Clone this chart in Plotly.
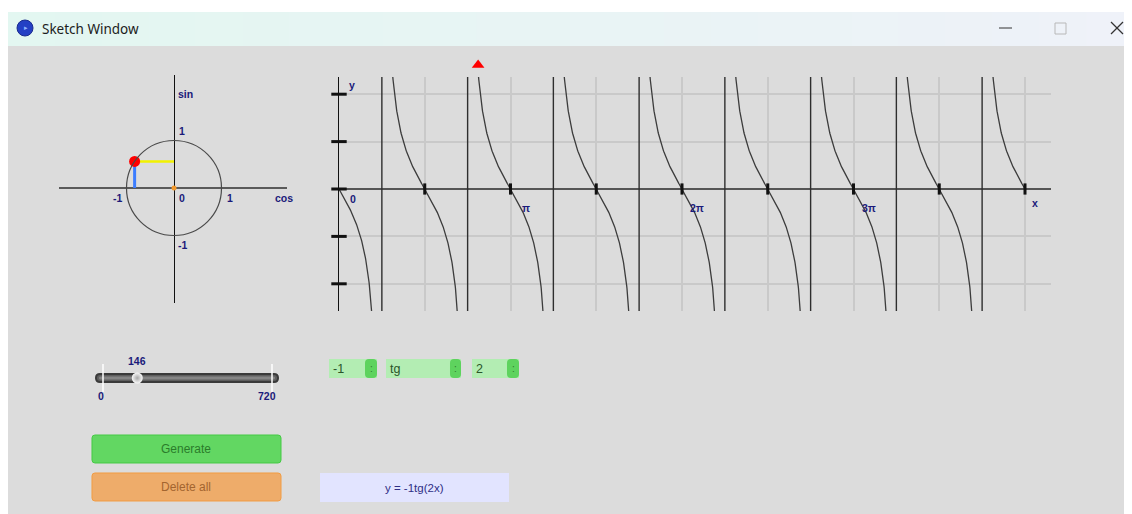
import numpy as np
import plotly.graph_objects as go

W, H = 1132, 514
OFF = 8                      # default page body margin
WF, HF = W - OFF, H - OFF    # figure size so the figure fills the window

# ---------------- data ----------------
coefficient = [-1]                 # a in y = a*tg(b*x)
function_name = ["tg"]
frequency = [2]                    # b
x_domain_deg = [0, 720]            # plotted interval (0 .. 4π)
angle_deg = [146]                  # slider value / current angle
slider_range = [0, 720]
y_tick_values = [-2, -1, 0, 1, 2]
y_grid_values = [-2, -1, 1, 2]
x_grid_deg = [90, 180, 270, 360, 450, 540, 630, 720]
pi_label_deg = [180, 360, 540]
pi_label_text = ["π", "2π", "3π"]
circle_label_text = ["sin", "1", "-1", "0", "1", "cos", "-1"]
circle_label_x = [0.25, 0.17, -1.18, 0.17, 1.18, 2.32, 0.17]
circle_label_y = [1.98, 1.20, -0.21, -0.21, -0.21, -0.21, -1.20]
dropdown_values = [str(coefficient[0]), function_name[0], str(frequency[0])]

# ---------------- helpers (window pixel -> paper) ----------------
def fx(px):
    return (px - OFF) / WF


def fy(py):
    return 1 - (py - OFF) / HF


def rr(x0, y0, x1, y1, r):
    """rounded rectangle path in paper coords from pixel box"""
    pts = [
        ("M", x0 + r, y0), ("L", x1 - r, y0), ("Q", x1, y0, x1, y0 + r),
        ("L", x1, y1 - r), ("Q", x1, y1, x1 - r, y1), ("L", x0 + r, y1),
        ("Q", x0, y1, x0, y1 - r), ("L", x0, y0 + r), ("Q", x0, y0, x0 + r, y0),
    ]
    s = ""
    for p in pts:
        if p[0] == "Q":
            s += f"Q{fx(p[1]):.6f},{fy(p[2]):.6f} {fx(p[3]):.6f},{fy(p[4]):.6f} "
        else:
            s += f"{p[0]}{fx(p[1]):.6f},{fy(p[2]):.6f} "
    return s + "Z"


def rect(x0, y0, x1, y1, fill, line=None, lw=0, layer="below"):
    return dict(type="rect", xref="paper", yref="paper", x0=fx(x0), x1=fx(x1),
                y0=fy(y1), y1=fy(y0), fillcolor=fill,
                line=dict(color=line or fill, width=lw), layer=layer)


def path(p, fill, line=None, lw=0, layer="below"):
    return dict(type="path", xref="paper", yref="paper", path=p, fillcolor=fill,
                line=dict(color=line or fill, width=lw), layer=layer)


def seg(x0, y0, x1, y1, color, lw):
    return dict(type="line", xref="paper", yref="paper", x0=fx(x0), x1=fx(x1),
                y0=fy(y0), y1=fy(y1), line=dict(color=color, width=lw), layer="above")


def ptext(x, y, text, font, xanchor="center"):
    return dict(xref="paper", yref="paper", x=fx(x), y=fy(y), text=text,
                showarrow=False, xanchor=xanchor, yanchor="middle", font=font)


LBL = dict(family="Liberation Sans, Arial, sans-serif", size=10.5, color="#1a1a7a")
UI = "Liberation Sans, Arial, sans-serif"

fig = go.Figure()
shapes = []
annotations = []

# ---------------- window chrome ----------------
shapes.append(rect(8, 46, 1133, 515, "#DCDCDC"))
c0 = np.array([0xE3, 0xF7, 0xF1])
c1 = np.array([0xEF, 0xF2, 0xF9])
n = 24
for i in range(n):
    c = (c0 + (c1 - c0) * i / (n - 1)).astype(int)
    xa = 8 + (1133 - 8) * i / n
    xb = 8 + (1133 - 8) * (i + 1) / n + 1
    shapes.append(rect(xa, 12, xb, 46, f"rgb({c[0]},{c[1]},{c[2]})"))
shapes.append(dict(type="circle", xref="paper", yref="paper", x0=fx(17), x1=fx(33),
                   y0=fy(36), y1=fy(20), fillcolor="#2440C4",
                   line=dict(color="#1a2b8e", width=1), layer="above"))
annotations.append(ptext(26, 28, "▸", dict(size=7, color="#8fb4ff")))
annotations.append(ptext(40, 29, "Sketch Window",
                         dict(family="Noto Sans, Open Sans, sans-serif", size=13.5,
                              color="#1c1c1c"), xanchor="left"))
shapes.append(seg(999, 28, 1012, 28, "#333333", 1))
shapes.append(dict(type="rect", xref="paper", yref="paper", x0=fx(1055), x1=fx(1066),
                   y0=fy(34), y1=fy(23), line=dict(color="#b8b8b8", width=1),
                   fillcolor="rgba(0,0,0,0)", layer="above"))
shapes.append(seg(1111, 22, 1123, 34, "#333333", 1.3))
shapes.append(seg(1111, 34, 1123, 22, "#333333", 1.3))

# ---------------- tangent graph (axis x in degrees) ----------------
a, b = coefficient[0], frequency[0]
kx = 686 / 720.0       # px per degree
ky = 47.4              # px per unit
x_rng = [0, (1051 - 339) / kx]
y_rng = [(189 - 311) / ky, (189 - 77) / ky]

xs = np.arange(x_domain_deg[0], x_domain_deg[1] + 0.001, 0.25)
with np.errstate(over="ignore", invalid="ignore"):
    ys = a * np.tan(np.radians(b * xs))
ys[np.abs(ys) > 8] = np.nan

asym = []
k = 0
while True:
    xv = (90 + 180 * k) / b
    if xv > x_domain_deg[1]:
        break
    asym.append(xv)
    k += 1
ax_x, ax_y = [], []
for v in asym:
    ax_x += [v, v, None]
    ax_y += [y_rng[0], y_rng[1], None]

fig.add_trace(go.Scatter(x=ax_x, y=ax_y, mode="lines", xaxis="x", yaxis="y",
                         line=dict(color="#2e2e2e", width=1.4), hoverinfo="skip"))
fig.add_trace(go.Scatter(x=xs, y=ys, mode="lines", xaxis="x", yaxis="y",
                         line=dict(color="#3c3c3c", width=1.3), connectgaps=False,
                         hoverinfo="skip"))
fig.add_trace(go.Scatter(x=[0] * len(y_tick_values), y=y_tick_values, mode="markers",
                         xaxis="x", yaxis="y", cliponaxis=False, hoverinfo="skip",
                         marker=dict(symbol="line-ew", size=11,
                                     line=dict(color="#111111", width=3))))
fig.add_trace(go.Scatter(x=x_grid_deg, y=[0] * len(x_grid_deg), mode="markers",
                         xaxis="x", yaxis="y", cliponaxis=False, hoverinfo="skip",
                         marker=dict(symbol="line-ns", size=8,
                                     line=dict(color="#111111", width=3))))
# red angle indicator, on a strip axis above the graph sharing its x scale
fig.add_trace(go.Scatter(x=angle_deg, y=[0], mode="markers",
                         xaxis="x4", yaxis="y4", cliponaxis=False, hoverinfo="skip",
                         marker=dict(symbol="triangle-up", size=11, color="#FF0000",
                                     line=dict(width=0))))

annotations.append(dict(xref="x", yref="y", x=0, y=y_rng[1], text="<b>y</b>",
                        showarrow=False, xshift=13, yshift=-8, font=LBL))
annotations.append(dict(xref="x", yref="y", x=0, y=0, text="<b>0</b>",
                        showarrow=False, xshift=14, yshift=-10, font=LBL))
for xv, t in zip(pi_label_deg, pi_label_text):
    annotations.append(dict(xref="x", yref="y", x=xv, y=0, text=f"<b>{t}</b>",
                            showarrow=False, xshift=15, yshift=-19, font=LBL))
annotations.append(dict(xref="x", yref="y", x=x_domain_deg[1], y=0, text="<b>x</b>",
                        showarrow=False, xshift=10, yshift=-14, font=LBL))

# ---------------- unit circle ----------------
kc = 47.5
cx_rng = [(59 - 174) / kc, (287 - 174) / kc]
cy_rng = [(188 - 303) / kc, (188 - 75) / kc]
th = np.radians(angle_deg[0])
pc, ps = np.cos(th), np.sin(th)
shapes.append(dict(type="circle", xref="x2", yref="y2", x0=-1, y0=-1, x1=1, y1=1,
                   line=dict(color="#4a4a4a", width=1.2), layer="above"))
fig.add_trace(go.Scatter(x=[pc, 0], y=[ps, ps], mode="lines", xaxis="x2", yaxis="y2",
                         line=dict(color="#F2F200", width=2.5), hoverinfo="skip"))
fig.add_trace(go.Scatter(x=[pc, pc], y=[ps, 0], mode="lines", xaxis="x2", yaxis="y2",
                         line=dict(color="#3C7DFF", width=3), hoverinfo="skip"))
fig.add_trace(go.Scatter(x=[0], y=[0], mode="markers", xaxis="x2", yaxis="y2",
                         marker=dict(size=5, color="#F39A2E"), hoverinfo="skip"))
fig.add_trace(go.Scatter(x=[pc], y=[ps], mode="markers", xaxis="x2", yaxis="y2",
                         marker=dict(size=11, color="#FF0000"), hoverinfo="skip"))
for t, xv, yv in zip(circle_label_text, circle_label_x, circle_label_y):
    annotations.append(dict(xref="x2", yref="y2", x=xv, y=yv, text=f"<b>{t}</b>",
                            showarrow=False, font=LBL))

# ---------------- slider ----------------
ks = 169 / 720.0
shapes.append(path(rr(95, 373, 279, 383, 5), "#3a3a3a"))
shapes.append(path(rr(97, 375, 277, 381, 3), "#5e5e5e"))
shapes.append(path(rr(99, 376.5, 275, 379.5, 1.5), "#858585"))
fig.add_trace(go.Scatter(x=slider_range, y=[0, 0], mode="markers", xaxis="x3", yaxis="y3",
                         cliponaxis=False, hoverinfo="skip",
                         marker=dict(symbol="line-ns", size=20,
                                     line=dict(color="#FFFFFF", width=1.5))))
fig.add_trace(go.Scatter(x=angle_deg, y=[0], mode="markers", xaxis="x3", yaxis="y3",
                         cliponaxis=False, hoverinfo="skip",
                         marker=dict(size=11, color="#FAFAFA",
                                     gradient=dict(type="radial", color="#A8A8A8"),
                                     line=dict(width=0))))
annotations.append(dict(xref="x3", yref="y3", x=angle_deg[0], y=0,
                        text=f"<b>{angle_deg[0]}</b>", showarrow=False,
                        xshift=0, yshift=17, font=LBL))
annotations.append(dict(xref="x3", yref="y3", x=slider_range[0], y=0,
                        text=f"<b>{slider_range[0]}</b>", showarrow=False,
                        xshift=-2, yshift=-18, font=LBL))
annotations.append(dict(xref="x3", yref="y3", x=slider_range[1], y=0,
                        text=f"<b>{slider_range[1]}</b>", showarrow=False,
                        xshift=-5, yshift=-18, font=LBL))

# ---------------- dropdowns ----------------
boxes = [(329, 377, 365), (386, 461, 450), (472, 519, 507)]
for (x0, x1, bx), val in zip(boxes, dropdown_values):
    shapes.append(rect(x0, 359, x1, 378, "#B3EDB3"))
    shapes.append(path(rr(bx, 359, x1, 378, 4), "#5ED35E"))
    annotations.append(ptext(x0 + 2, 369, val,
                             dict(family=UI, size=12.5, color="#2a552a"), xanchor="left"))
    annotations.append(ptext((bx + x1) / 2, 368.5, ":",
                             dict(family=UI, size=10, color="#2f7a2f")))

# ---------------- buttons ----------------
shapes.append(path(rr(92, 435, 281, 463, 3), "#62D762", "#45CA45", 1))
annotations.append(ptext(186, 449, "Generate",
                         dict(family=UI, size=12, color="#2b7c2b")))
shapes.append(path(rr(92, 473, 281, 501, 3), "#EEAC6A", "#F29C42", 1))
annotations.append(ptext(186, 487, "Delete all",
                         dict(family=UI, size=12, color="#A3652F")))

# ---------------- formula box ----------------
shapes.append(rect(320, 473, 509, 502, "#E2E4FF"))
annotations.append(ptext(414, 488,
                         f"y = {coefficient[0]}{function_name[0]}({frequency[0]}x)",
                         dict(family=UI, size=11.5, color="#2f2f85")))

# ---------------- layout ----------------
hidden = dict(showgrid=False, zeroline=False, showticklabels=False, ticks="",
              showline=False, fixedrange=True)
fig.update_layout(
    width=WF, height=HF, margin=dict(l=0, r=0, t=0, b=0),
    paper_bgcolor="#FFFFFF", plot_bgcolor="rgba(0,0,0,0)",
    showlegend=False, hovermode=False,
    xaxis=dict(domain=[fx(339), fx(1051)], range=x_rng, anchor="y",
               tickmode="array", tickvals=x_grid_deg, showgrid=True,
               gridcolor="#C9C9C9", gridwidth=2, zeroline=False,
               showticklabels=False, ticks="", showline=False, fixedrange=True),
    yaxis=dict(domain=[fy(311), fy(77)], range=y_rng, anchor="x",
               tickmode="array", tickvals=y_grid_values, showgrid=True,
               gridcolor="#C9C9C9", gridwidth=2, zeroline=True,
               zerolinecolor="#555555", zerolinewidth=2,
               showticklabels=False, ticks="", showline=True,
               linecolor="#111111", linewidth=1.5, fixedrange=True),
    xaxis2=dict(domain=[fx(59), fx(287)], range=cx_rng, anchor="y2",
                showgrid=False, zeroline=True, zerolinecolor="#111111", zerolinewidth=1,
                showticklabels=False, ticks="", showline=False, fixedrange=True),
    yaxis2=dict(domain=[fy(303), fy(75)], range=cy_rng, anchor="x2",
                showgrid=False, zeroline=True, zerolinecolor="#5a5a5a", zerolinewidth=2,
                showticklabels=False, ticks="", showline=False, fixedrange=True),
    xaxis3=dict(domain=[fx(95), fx(279)], range=[-8 / ks, 176 / ks], anchor="y3", **hidden),
    yaxis3=dict(domain=[fy(398), fy(358)], range=[-1, 1], anchor="x3", **hidden),
    xaxis4=dict(domain=[fx(339), fx(1051)], range=x_rng, anchor="y4", **hidden),
    yaxis4=dict(domain=[fy(75), fy(55)], range=[-1, 1], anchor="x4", **hidden),
    shapes=shapes, annotations=annotations,
)

fig.write_html("out.html", config={"displayModeBar": False, "staticPlot": True})
